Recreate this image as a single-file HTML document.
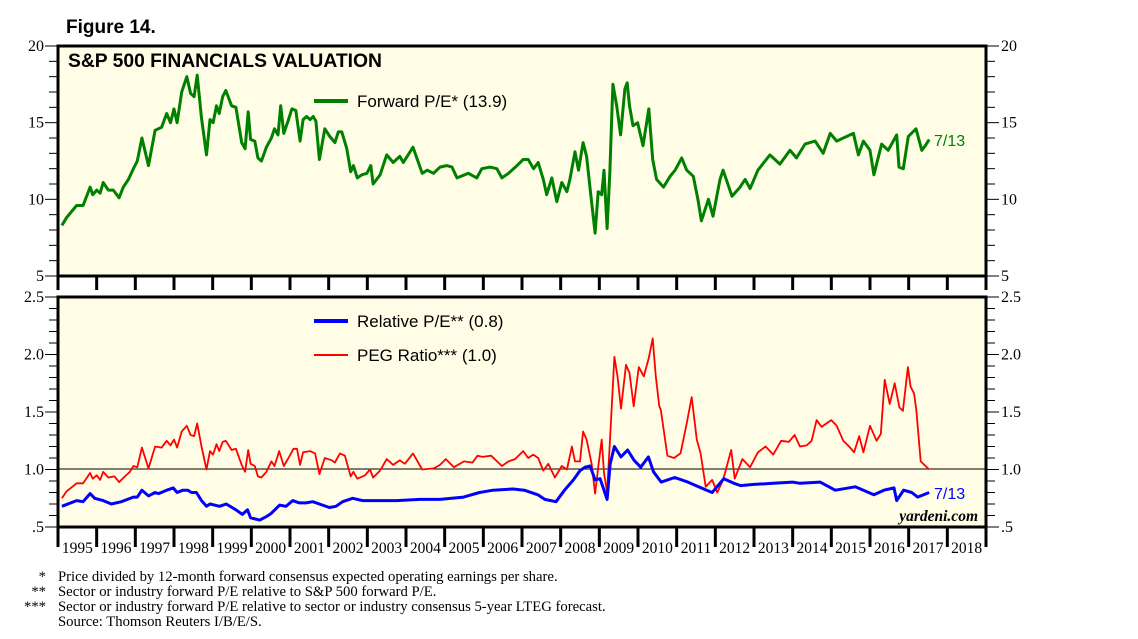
<!DOCTYPE html>
<html><head><meta charset="utf-8"><style>
body{margin:0;background:#fff;width:1138px;height:639px;overflow:hidden}
svg{display:block}
.ax{font-family:"Liberation Serif",serif;font-size:16px;fill:#000}
.yr{font-family:"Liberation Serif",serif;font-size:15.5px;fill:#000}
.lg{font-family:"Liberation Sans",sans-serif;font-size:17px;fill:#000}
.fn{font-family:"Liberation Serif",serif;font-size:14.7px;fill:#000}
</style></head><body>
<svg id="chart" width="1138" height="639">
<text x="66" y="33" font-family="Liberation Sans,sans-serif" font-weight="bold" font-size="19">Figure 14.</text>
<rect x="58" y="46" width="928" height="230" fill="#FFFDE6"/>
<rect x="58" y="297" width="928" height="230" fill="#FFFDE6"/>
<line x1="58" x2="986" y1="469" y2="469" stroke="#000" stroke-width="1"/>
<g id="marks"></g>
<rect x="58" y="46" width="928" height="230" fill="none" stroke="#000" stroke-width="3"/>
<rect x="58" y="297" width="928" height="230" fill="none" stroke="#000" stroke-width="3"/>
<g id="axes"></g>
<text x="68" y="67" font-family="Liberation Sans,sans-serif" font-weight="bold" font-size="19.3">S&amp;P 500 FINANCIALS VALUATION</text>
<line x1="314" x2="348" y1="101" y2="101" stroke="#008000" stroke-width="4"/>
<text x="357" y="107" class="lg">Forward P/E* (13.9)</text>
<line x1="314" x2="348" y1="321" y2="321" stroke="#0000ff" stroke-width="4"/>
<text x="357" y="327" class="lg">Relative P/E** (0.8)</text>
<line x1="314" x2="348" y1="355" y2="355" stroke="#ff0000" stroke-width="2"/>
<text x="357" y="361" class="lg">PEG Ratio*** (1.0)</text>
<text x="934" y="146" class="lg" style="fill:#008000;font-size:16px">7/13</text>
<text x="934" y="499" class="lg" style="fill:#0000ff;font-size:16px">7/13</text>
<text x="978" y="521" text-anchor="end" font-family="Liberation Serif,serif" font-style="italic" font-weight="bold" font-size="15.5">yardeni.com</text>
<g>
<text x="46" y="581" text-anchor="end" class="fn">*</text><text x="58" y="581" class="fn">Price divided by 12-month forward consensus expected operating earnings per share.</text>
<text x="46" y="596" text-anchor="end" class="fn">**</text><text x="58" y="596" class="fn">Sector or industry forward P/E relative to S&amp;P 500 forward P/E.</text>
<text x="46" y="611" text-anchor="end" class="fn">***</text><text x="58" y="611" class="fn">Sector or industry forward P/E relative to sector or industry consensus 5-year LTEG forecast.</text>
<text x="58" y="626" class="fn">Source: Thomson Reuters I/B/E/S.</text>
</g>
</svg>
<script>
const peDates=[1995.1,1995.22,1995.48,1995.65,1995.83,1995.9,1996.0,1996.09,1996.17,1996.3,1996.43,1996.58,1996.69,1996.82,1996.95,1997.05,1997.17,1997.34,1997.51,1997.68,1997.81,1997.91,1998.0,1998.08,1998.2,1998.33,1998.43,1998.52,1998.6,1998.71,1998.84,1998.93,1999.01,1999.1,1999.17,1999.26,1999.34,1999.49,1999.6,1999.75,1999.84,1999.92,1999.98,2000.09,2000.17,2000.26,2000.39,2000.52,2000.6,2000.69,2000.76,2000.84,2000.96,2001.05,2001.15,2001.26,2001.34,2001.43,2001.52,2001.6,2001.67,2001.76,2001.9,2002.03,2002.16,2002.25,2002.34,2002.47,2002.57,2002.64,2002.74,2002.86,2002.99,2003.09,2003.15,2003.33,2003.5,2003.67,2003.84,2003.93,2004.18,2004.42,2004.55,2004.71,2004.88,2005.05,2005.19,2005.32,2005.61,2005.83,2005.96,2006.17,2006.35,2006.48,2006.65,2006.87,2007.03,2007.16,2007.3,2007.42,2007.55,2007.64,2007.77,2007.9,2008.03,2008.16,2008.24,2008.37,2008.46,2008.58,2008.67,2008.76,2008.89,2008.97,2009.06,2009.12,2009.2,2009.27,2009.35,2009.45,2009.55,2009.66,2009.72,2009.78,2009.87,2009.99,2010.13,2010.28,2010.38,2010.48,2010.66,2010.83,2010.96,2011.13,2011.26,2011.43,2011.55,2011.64,2011.82,2011.94,2012.12,2012.2,2012.43,2012.64,2012.77,2012.9,2013.1,2013.41,2013.67,2013.93,2014.1,2014.32,2014.58,2014.79,2014.97,2015.14,2015.31,2015.57,2015.7,2015.83,2016.0,2016.1,2016.3,2016.47,2016.69,2016.75,2016.86,2016.99,2017.19,2017.34,2017.43,2017.53];
const forwardPE=[8.3,8.8,9.6,9.6,10.8,10.3,10.6,10.4,11.1,10.6,10.6,10.1,10.8,11.3,12.0,12.5,14.0,12.2,14.5,14.7,15.6,15.0,15.9,15.0,17.0,18.0,16.9,16.7,18.1,15.3,12.9,15.2,15.0,16.1,15.6,16.7,17.1,16.1,16.0,13.7,13.3,15.7,13.9,13.8,12.7,12.5,13.4,14.0,14.6,14.2,16.1,14.3,15.2,15.9,15.8,13.8,15.2,15.4,15.2,15.4,15.1,12.6,14.6,14.1,13.7,14.4,14.4,13.3,11.8,12.2,11.4,11.6,11.7,12.2,11.0,11.6,12.9,12.4,12.8,12.4,13.4,11.7,11.9,11.7,12.1,12.2,12.1,11.4,11.7,11.4,12.0,12.1,12.0,11.4,11.7,12.2,12.6,12.6,12.0,12.4,11.3,10.3,11.4,9.85,11.1,10.5,11.3,13.1,11.9,13.7,12.8,10.7,7.8,10.5,10.3,11.9,8.1,11.7,17.5,16.1,14.2,17.2,17.6,16.1,14.8,15.0,13.5,15.9,12.6,11.3,10.8,11.5,11.9,12.7,11.9,11.5,10.0,8.6,10.0,8.9,11.3,11.9,10.2,10.8,11.3,10.7,11.9,12.9,12.3,13.2,12.7,13.6,13.8,13.0,14.3,13.8,14.0,14.3,12.9,13.8,13.2,11.6,13.6,13.2,14.2,12.1,12.0,14.1,14.6,13.2,13.5,13.9];
const relDates=[1995.1,1995.48,1995.65,1995.83,1995.95,1996.17,1996.38,1996.64,1996.95,1997.05,1997.17,1997.34,1997.51,1997.6,1997.81,1997.98,1998.08,1998.23,1998.36,1998.45,1998.58,1998.71,1998.84,1998.93,1999.18,1999.35,1999.6,1999.77,1999.9,1999.98,2000.22,2000.39,2000.52,2000.73,2000.9,2001.07,2001.24,2001.41,2001.59,2001.76,2002.02,2002.19,2002.36,2002.62,2002.88,2003.14,2003.33,2003.76,2004.36,2004.88,2005.49,2005.9,2006.25,2006.77,2007.06,2007.41,2007.59,2007.88,2008.1,2008.33,2008.5,2008.63,2008.76,2008.89,2009.02,2009.2,2009.28,2009.39,2009.56,2009.73,2009.9,2010.07,2010.27,2010.4,2010.6,2010.95,2011.29,2011.7,2011.92,2012.22,2012.48,2012.65,2013.0,2013.5,2014.0,2014.19,2014.71,2015.1,2015.62,2015.83,2016.1,2016.36,2016.62,2016.69,2016.87,2017.08,2017.23,2017.53];
const relativePE=[0.68,0.73,0.72,0.79,0.75,0.73,0.70,0.72,0.76,0.76,0.82,0.77,0.80,0.79,0.82,0.84,0.80,0.82,0.82,0.80,0.80,0.73,0.68,0.70,0.68,0.70,0.65,0.61,0.65,0.58,0.56,0.59,0.62,0.69,0.68,0.73,0.71,0.71,0.72,0.70,0.67,0.68,0.72,0.75,0.73,0.73,0.73,0.73,0.74,0.74,0.76,0.80,0.82,0.83,0.82,0.78,0.74,0.72,0.82,0.91,0.99,1.02,1.03,0.91,0.92,0.74,1.05,1.20,1.11,1.17,1.08,1.02,1.11,0.98,0.89,0.93,0.89,0.83,0.80,0.92,0.88,0.86,0.87,0.88,0.89,0.88,0.89,0.82,0.85,0.82,0.78,0.82,0.84,0.73,0.82,0.80,0.76,0.80];
const pegDates=[1995.1,1995.22,1995.48,1995.65,1995.83,1995.9,1996.0,1996.09,1996.17,1996.3,1996.46,1996.58,1996.73,1996.86,1996.95,1997.05,1997.17,1997.34,1997.51,1997.68,1997.81,1997.91,1998.0,1998.08,1998.2,1998.33,1998.43,1998.52,1998.6,1998.71,1998.84,1998.93,1999.01,1999.1,1999.17,1999.26,1999.34,1999.49,1999.6,1999.75,1999.84,1999.92,1999.98,2000.09,2000.17,2000.26,2000.39,2000.52,2000.6,2000.72,2000.84,2000.96,2001.09,2001.18,2001.26,2001.34,2001.52,2001.65,2001.76,2001.9,2002.08,2002.16,2002.29,2002.42,2002.57,2002.64,2002.74,2002.94,2003.07,2003.15,2003.33,2003.5,2003.67,2003.84,2003.97,2004.18,2004.42,2004.72,2004.88,2005.03,2005.24,2005.5,2005.72,2005.85,2005.98,2006.2,2006.48,2006.65,2006.82,2007.03,2007.16,2007.29,2007.42,2007.55,2007.68,2007.85,2008.03,2008.16,2008.29,2008.37,2008.5,2008.58,2008.67,2008.8,2008.89,2008.97,2009.06,2009.12,2009.2,2009.29,2009.39,2009.47,2009.56,2009.69,2009.78,2009.89,2010.02,2010.15,2010.28,2010.38,2010.46,2010.55,2010.59,2010.76,2010.93,2011.1,2011.26,2011.39,2011.52,2011.62,2011.75,2011.92,2012.05,2012.2,2012.41,2012.5,2012.7,2012.9,2013.1,2013.3,2013.5,2013.7,2013.9,2014.05,2014.19,2014.36,2014.49,2014.62,2014.75,2014.87,2015.0,2015.14,2015.31,2015.46,2015.59,2015.72,2015.83,2016.0,2016.17,2016.28,2016.38,2016.51,2016.64,2016.76,2016.85,2016.98,2017.05,2017.14,2017.2,2017.31,2017.53];
const pegRatio=[0.75,0.81,0.88,0.88,0.97,0.92,0.95,0.91,0.98,0.93,0.94,0.89,0.94,0.98,1.03,1.02,1.19,1.01,1.20,1.19,1.25,1.21,1.26,1.19,1.33,1.38,1.30,1.29,1.40,1.20,1.00,1.16,1.13,1.22,1.16,1.24,1.25,1.17,1.18,1.04,0.98,1.17,1.05,1.03,0.94,0.93,0.98,1.07,1.03,1.16,1.03,1.10,1.18,1.18,1.04,1.15,1.16,1.14,0.96,1.10,1.08,1.06,1.14,1.12,0.94,0.98,0.92,0.95,1.00,0.93,0.99,1.09,1.04,1.08,1.05,1.14,1.00,1.01,1.04,1.09,1.02,1.07,1.06,1.12,1.11,1.12,1.03,1.07,1.09,1.16,1.10,1.13,1.10,0.99,1.05,0.93,1.03,1.00,1.20,1.07,1.07,1.33,1.26,1.05,0.79,1.02,1.26,0.97,0.80,1.34,1.98,1.81,1.53,1.91,1.84,1.55,1.89,1.81,1.97,2.14,1.81,1.55,1.52,1.12,1.10,1.14,1.40,1.63,1.26,1.14,0.85,0.91,0.80,0.91,1.17,0.92,1.09,1.02,1.15,1.20,1.13,1.25,1.24,1.30,1.20,1.21,1.25,1.43,1.37,1.40,1.43,1.38,1.25,1.20,1.15,1.29,1.15,1.38,1.25,1.31,1.78,1.57,1.75,1.54,1.51,1.89,1.72,1.66,1.51,1.07,1.00,1.03];
const yearLabels=[1995,1996,1997,1998,1999,2000,2001,2002,2003,2004,2005,2006,2007,2008,2009,2010,2011,2012,2013,2014,2015,2016,2017,2018];
const topTicks=["20","15","10","5"];
const topTickVals=[20,15,10,5];
const botTicks=["2.5","2.0","1.5","1.0",".5"];
const botTickVals=[2.5,2.0,1.5,1.0,0.5];

const NS="http://www.w3.org/2000/svg";
const X0=58,X1=986;
const xS=t=>X0+(t-1995)*(X1-X0)/24;
const yTop=v=>46+(20-v)*230/15;
const yBot=v=>297+(2.5-v)*230/2;
function mk(tag,attrs,parent){const e=document.createElementNS(NS,tag);for(const k in attrs)e.setAttribute(k,attrs[k]);parent.appendChild(e);return e;}
const marks=document.getElementById('marks'),axes=document.getElementById('axes');
function series(dates,vals,yf,color,w,name){
  const d=dates.map((t,i)=>(i?'L':'M')+xS(t).toFixed(1)+' '+yf(vals[i]).toFixed(1)).join(' ');
  const p=mk('path',{d:d,fill:'none',stroke:color,'stroke-width':w,'stroke-linejoin':'round'},marks);
  
  
}
series(peDates,forwardPE,yTop,'#008000',3,'forward-pe-line');
series(pegDates,pegRatio,yBot,'#ff0000',1.8,'peg-ratio-line');
series(relDates,relativePE,yBot,'#0000ff',3,'relative-pe-line');
for(let v=5;v<=20;v++){const y=yTop(v);const maj=v%5===0;
  mk('line',{x1:maj?45:49,x2:58,y1:y,y2:y,stroke:'#000','stroke-width':1},axes);
  mk('line',{x1:986,x2:maj?999:995,y1:y,y2:y,stroke:'#000','stroke-width':1},axes);}
for(let k=5;k<=25;k++){const v=k/10,y=yBot(v);const maj=k%5===0;
  mk('line',{x1:maj?45:49,x2:58,y1:y,y2:y,stroke:'#000','stroke-width':1},axes);
  mk('line',{x1:986,x2:maj?999:995,y1:y,y2:y,stroke:'#000','stroke-width':1},axes);}
topTicks.forEach((s,i)=>{const y=yTop(topTickVals[i])+5;
  const a=mk('text',{x:44,y:y,'text-anchor':'end','class':'ax'},axes);a.textContent=s;
  
  
  const b=mk('text',{x:1001,y:y,'class':'ax'},axes);b.textContent=s;
  
  });
botTicks.forEach((s,i)=>{const y=yBot(botTickVals[i])+5;
  const a=mk('text',{x:44,y:y,'text-anchor':'end','class':'ax'},axes);a.textContent=s;
  
  
  const b=mk('text',{x:1001,y:y,'class':'ax'},axes);b.textContent=s;
  
  });
for(let i=0;i<=24;i++){const x=xS(1995+i);
  mk('line',{x1:x,x2:x,y1:276,y2:290,stroke:'#000','stroke-width':3},axes);
  mk('line',{x1:x,x2:x,y1:527,y2:547,stroke:'#000','stroke-width':3},axes);}
yearLabels.forEach(yr=>{const t=mk('text',{x:xS(yr+0.5),y:553,'text-anchor':'middle','class':'yr'},axes);t.textContent=yr;
  
  });
</script>
</body></html>
